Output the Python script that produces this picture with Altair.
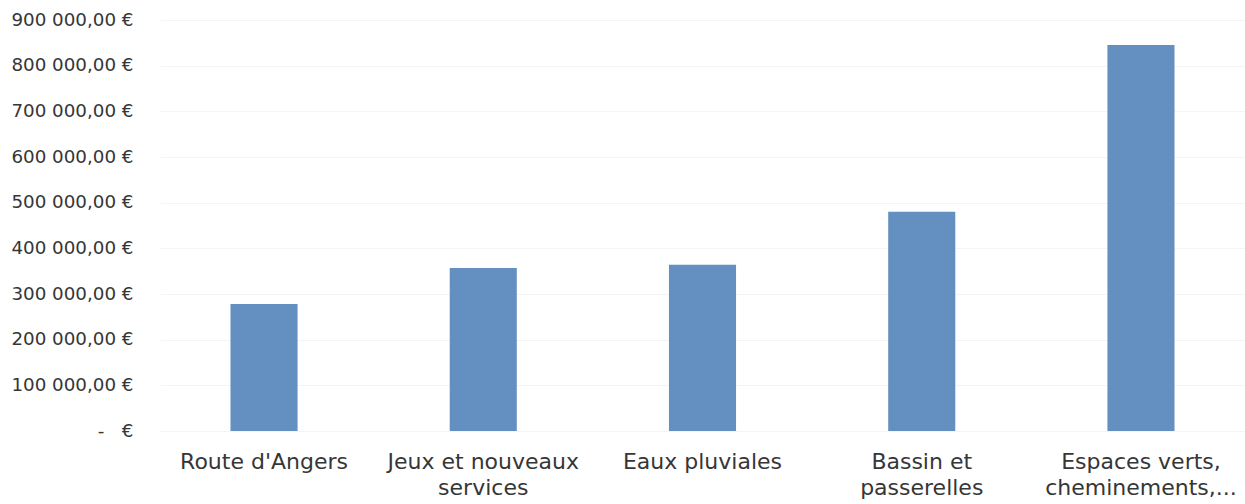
import altair as alt
import pandas as pd

categories = [
    "Route d'Angers",
    "Jeux et nouveaux\nservices",
    "Eaux pluviales",
    "Bassin et\npasserelles",
    "Espaces verts,\ncheminements,...",
]
amounts = [278000, 357000, 364000, 480000, 845000]
y_ticks = [0, 100000, 200000, 300000, 400000, 500000, 600000, 700000, 800000, 900000]

df = pd.DataFrame({"cat": categories, "amount": amounts})

chart = (
    alt.Chart(df)
    .mark_bar(color="#6390c1")
    .encode(
        x=alt.X(
            "cat:N",
            sort=None,
            title=None,
            scale=alt.Scale(paddingInner=0.694, paddingOuter=0.3215),
            axis=alt.Axis(
                labelAngle=0,
                labelExpr="split(datum.value, '\\n')",
                labelFont="DejaVu Sans",
                labelFontSize=22,
                labelColor="#363636",
                labelLineHeight=26,
                labelPadding=20,
                labelBaseline="top",
                labelLimit=400,
                ticks=False,
                domain=False,
                grid=False,
            ),
        ),
        y=alt.Y(
            "amount:Q",
            title=None,
            scale=alt.Scale(domain=[0, 900000], nice=False),
            axis=alt.Axis(
                values=y_ticks,
                labelExpr="datum.value == 0 ? '-\u00a0\u00a0\u00a0€' : format(datum.value / 1000, 'd') + ' 000,00 €'",
                labelFont="DejaVu Sans",
                labelFontSize=18.3,
                labelColor="#363636",
                labelPadding=27,
                labelLimit=300,
                ticks=False,
                domain=False,
                grid=True,
                gridColor="#f4f4f4",
                gridWidth=1,
            ),
        ),
    )
    .properties(
        width=1085,
        height=411,
        padding={"left": 160, "top": 20, "right": 0, "bottom": 73},
        autosize=alt.AutoSizeParams(type="none"),
        background="white",
    )
    .configure_view(strokeWidth=0, stroke="transparent")
)

chart.save("out.html", embed_options={"renderer": "svg", "actions": False})
